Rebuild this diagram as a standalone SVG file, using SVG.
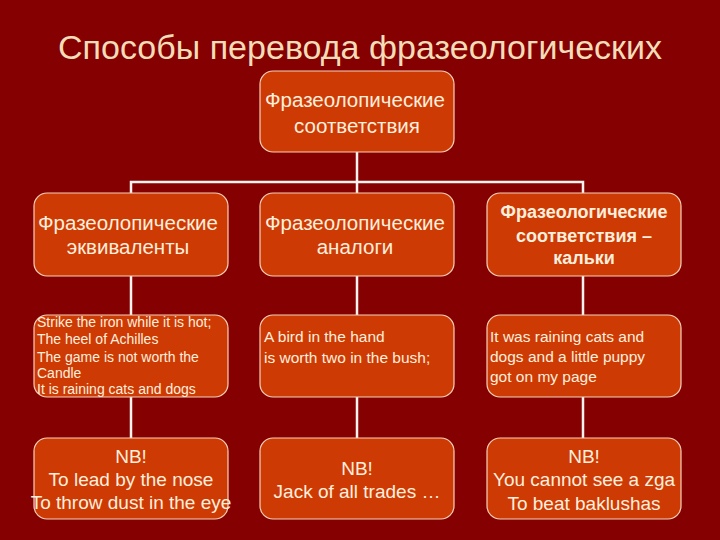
<svg xmlns="http://www.w3.org/2000/svg" width="720" height="540" viewBox="0 0 720 540">
<style>
.box{fill:#CE3A04;stroke:#F6D2BC;stroke-width:1.2}
.t{font-family:"Liberation Sans",Arial,sans-serif;fill:#FFEFDD}
.c{text-anchor:middle}
.b{font-weight:bold}
.con{stroke:#FFF2EE;stroke-width:2.5;fill:none}
</style>
<rect width="720" height="540" fill="#850000"/>
<text class="t c" x="360" y="59" font-size="34" style="fill:#F3DDB8" textLength="604" lengthAdjust="spacingAndGlyphs">Способы перевода фразеологических</text>
<g id="connectors">
<path class="con" d="M357 152 V193 M131 193 V182 H583 V193 M131 276 V315 M357 276 V315 M583 276 V315 M131 397 V438 M357 397 V438 M583 397 V438"/>
</g>
<g id="top">
<rect class="box" x="260" y="71" width="194" height="81" rx="13"/>
<text class="t c" x="355" y="107" font-size="20.5">Фразеолопические</text>
<text class="t c" x="357" y="133" font-size="20.5">соответствия</text>
</g>
<g id="equiv">
<rect class="box" x="34" y="193" width="194" height="83" rx="13"/>
<text class="t c" x="128" y="230" font-size="20.5">Фразеолопические</text>
<text class="t c" x="128" y="254" font-size="20.5">эквиваленты</text>
</g>
<g id="analog">
<rect class="box" x="260" y="193" width="194" height="83" rx="13"/>
<text class="t c" x="355" y="230" font-size="20.5">Фразеолопические</text>
<text class="t c" x="355" y="254" font-size="20.5">аналоги</text>
</g>
<g id="calque">
<rect class="box" x="487" y="193" width="194" height="83" rx="13"/>
<text class="t c b" x="584" y="218" font-size="18">Фразеологические</text>
<text class="t c b" x="584" y="242" font-size="18">соответствия –</text>
<text class="t c b" x="584" y="264" font-size="18">кальки</text>
</g>
<g id="equiv-ex">
<rect class="box" x="34" y="315" width="194" height="82" rx="13"/>
<text class="t" x="37" y="327" font-size="14">Strike the iron while it is hot;</text>
<text class="t" x="37" y="344" font-size="14">The heel of Achilles</text>
<text class="t" x="37" y="362" font-size="14">The game is not worth the</text>
<text class="t" x="37" y="378" font-size="14">Candle</text>
<text class="t" x="37" y="394" font-size="14">It is raining cats and dogs</text>
</g>
<g id="analog-ex">
<rect class="box" x="260" y="315" width="194" height="82" rx="13"/>
<text class="t" x="264" y="342" font-size="15.5">A bird in the hand</text>
<text class="t" x="264" y="363" font-size="15.5">is worth two in the bush;</text>
</g>
<g id="calque-ex">
<rect class="box" x="487" y="315" width="194" height="82" rx="13"/>
<text class="t" x="490" y="342" font-size="15.5">It was raining cats and</text>
<text class="t" x="490" y="362" font-size="15.5">dogs and a little puppy</text>
<text class="t" x="490" y="382" font-size="15.5">got on my page</text>
</g>
<g id="equiv-nb">
<rect class="box" x="34" y="438" width="194" height="81" rx="13"/>
<text class="t c" x="131" y="463" font-size="19">NB!</text>
<text class="t c" x="131" y="486" font-size="19">To lead by the nose</text>
<text class="t c" x="131" y="509" font-size="19">To throw dust in the eye</text>
</g>
<g id="analog-nb">
<rect class="box" x="260" y="438" width="194" height="81" rx="13"/>
<text class="t c" x="357" y="475" font-size="19">NB!</text>
<text class="t c" x="357" y="498" font-size="19">Jack of all trades …</text>
</g>
<g id="calque-nb">
<rect class="box" x="487" y="438" width="194" height="81" rx="13"/>
<text class="t c" x="584" y="463" font-size="19">NB!</text>
<text class="t c" x="584" y="486" font-size="19">You cannot see a zga</text>
<text class="t c" x="584" y="510" font-size="19">To beat baklushas</text>
</g>
</svg>
